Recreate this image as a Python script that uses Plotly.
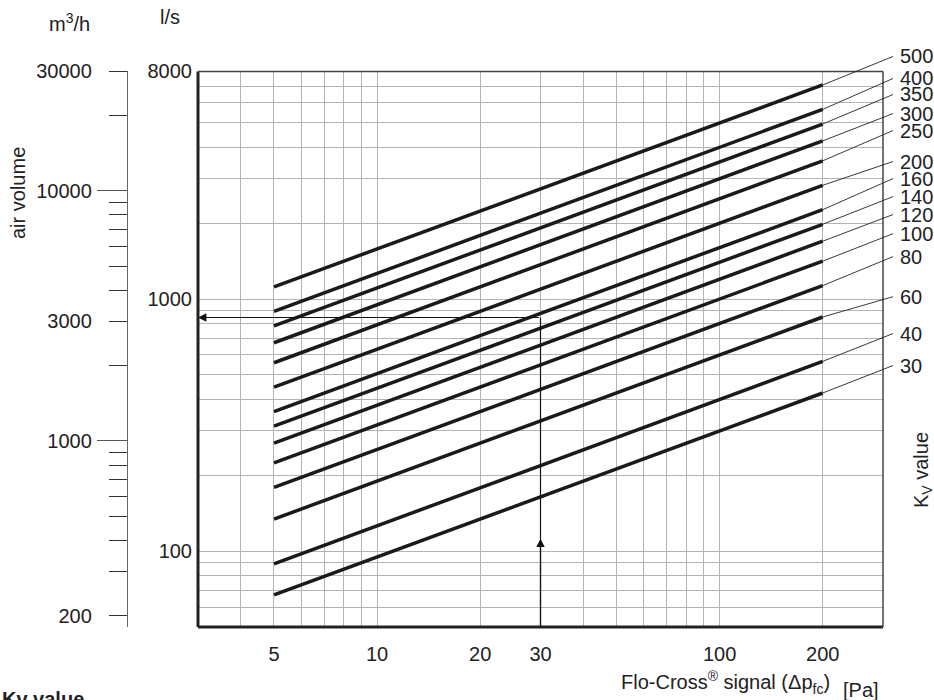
import numpy as np
import plotly.graph_objects as go

# ---------------- data ----------------
kv_values = [30, 40, 60, 80, 100, 120, 140, 160, 200, 250, 300, 350, 400, 500]
dp_points = [5, 200]                      # Flo-Cross signal [Pa] at line ends
flow_at_dp5 = [67, 89, 134, 179, 224, 268, 313, 358, 447, 559, 671, 783, 894, 1118]        # l/s
flow_at_dp200 = [424, 566, 849, 1131, 1414, 1697, 1980, 2263, 2828, 3536, 4243, 4950, 5657, 7071]  # l/s

x_tick_vals = [4, 5, 6, 7, 8, 9, 10, 20, 30, 40, 50, 60, 70, 80, 90, 100, 200]
x_tick_text = ["", "5", "", "", "", "", "10", "20", "30", "", "", "", "", "", "", "100", "200"]

y_grid_vals = [50, 60, 70, 80, 90, 100, 200, 300, 400, 500, 600, 700, 800, 900,
               1000, 2000, 3000, 4000, 5000, 6000, 7000, 8000]
y_tick_text = ["", "", "", "", "", "100", "", "", "", "", "", "", "", "",
               "1000", "", "", "", "", "", "", "8000"]

m3h_tick_vals = [30000, 20000, 10000, 9000, 8000, 7000, 6000, 5000, 4000, 3000, 2000,
                 1000, 900, 800, 700, 600, 500, 400, 300, 200]
m3h_tick_text = ["30000", "", "10000", "", "", "", "", "", "", "3000", "",
                 "1000", "", "", "", "", "", "", "", "200"]
m3h_major_ticks = [10000, 1000]

example_dp = 30
example_flow = 845          # l/s read at the example arrow
example_arrow_tip = 112     # l/s where the upward arrow head sits

# label anchor (leader-line end) for each Kv label, in l/s
kv_label_flow = [545, 730, 1022, 1474, 1818, 2165, 2551, 3006, 3514, 4665, 5448, 6482, 7505, 9175]
kv_label_dp = 321

# ---------------- scales ----------------
LS_TO_M3H = 3.6
y_min, y_max = 50, 8000
x_min, x_max = 3, 300
m3h_min, m3h_max = y_min * LS_TO_M3H, 30000
y_dom_top = np.log10(y_max / y_min) / np.log10(m3h_max / m3h_min)

W, H = 934, 700
ML, MR, MT, MB = 100, 51, 67, 73
PW, PH = W - ML - MR, H - MT - MB


def pxx(x):
    return (x - ML) / PW


def pxy(y):
    return (H - MB - y) / PH


FONT = "Liberation Sans, Arial, Helvetica, sans-serif"
FS = 20

fig = go.Figure()

for kv, q5, q200 in zip(kv_values, flow_at_dp5, flow_at_dp200):
    fig.add_trace(go.Scatter(x=dp_points, y=[q5, q200], mode="lines",
                             line=dict(color="#1a1a1a", width=3.5),
                             name=f"Kv {kv}", showlegend=False, hoverinfo="skip"))

# example vertical line
fig.add_trace(go.Scatter(x=[example_dp, example_dp], y=[y_min, example_flow], mode="lines",
                         line=dict(color="#111111", width=1.2), showlegend=False, hoverinfo="skip"))

# dummy traces so the secondary axes render
fig.add_trace(go.Scatter(x=[10], y=[1000], yaxis="y2", mode="markers",
                         marker=dict(opacity=0), showlegend=False, hoverinfo="skip"))
fig.add_trace(go.Scatter(x=[10], y=[1000], yaxis="y3", mode="markers",
                         marker=dict(opacity=0), showlegend=False, hoverinfo="skip"))

annotations = []
# Kv labels with leader lines
for kv, q200, qlab in zip(kv_values, flow_at_dp200, kv_label_flow):
    annotations.append(dict(
        x=np.log10(dp_points[1]), y=np.log10(q200), xref="x", yref="y",
        ax=np.log10(kv_label_dp), ay=np.log10(qlab), axref="x", ayref="y",
        text=str(kv), showarrow=True, arrowhead=0, arrowwidth=0.9, arrowcolor="#222222",
        standoff=0, startstandoff=0, xanchor="left", yanchor="middle",
        font=dict(family=FONT, size=FS, color="#222222"), borderpad=6))

# example arrows
annotations.append(dict(
    x=np.log10(x_min), y=np.log10(example_flow), xref="x", yref="y",
    ax=np.log10(example_dp), ay=np.log10(example_flow), axref="x", ayref="y",
    text="", showarrow=True, arrowhead=2, arrowsize=1.4, arrowwidth=1.2, arrowcolor="#111111"))
annotations.append(dict(
    x=np.log10(example_dp), y=np.log10(example_arrow_tip), xref="x", yref="y",
    ax=np.log10(example_dp), ay=np.log10(y_min), axref="x", ayref="y",
    text="", showarrow=True, arrowhead=2, arrowsize=1.4, arrowwidth=1.2, arrowcolor="#111111"))

# text labels
txt = dict(showarrow=False, xref="paper", yref="paper", font=dict(family=FONT, size=FS, color="#222222"))
annotations += [
    dict(text="m<sup>3</sup>/h", x=pxx(69), y=pxy(22), xanchor="center", yanchor="middle", **txt),
    dict(text="l/s", x=pxx(170), y=pxy(17), xanchor="center", yanchor="middle", **txt),
    dict(text="air volume", x=pxx(18), y=pxy(193), xanchor="center", yanchor="middle", textangle=-90, **txt),
    dict(text="K<sub>V</sub> value", x=pxx(922), y=pxy(470), xanchor="center", yanchor="middle", textangle=-90, **txt),
    dict(text="Flo-Cross<sup>®</sup> signal (Δp<sub>fc</sub>)", x=pxx(619), y=pxy(682),
         xanchor="left", yanchor="middle", **txt),
    dict(text="[Pa]", x=pxx(841), y=pxy(690), xanchor="left", yanchor="middle", **txt),
    dict(text="<b>Kv value</b>", x=pxx(0), y=pxy(686), xanchor="left", yanchor="top", **txt),
]

frame_shapes = [
    dict(type="line", xref="x domain", yref="y domain", x0=0, x1=0, y0=0, y1=1,
         line=dict(color="#222222", width=3)),
    dict(type="line", xref="x domain", yref="y domain", x0=0, x1=1, y0=0, y1=0,
         line=dict(color="#222222", width=3)),
    dict(type="line", xref="x domain", yref="y domain", x0=0, x1=1, y0=1, y1=1,
         line=dict(color="#444444", width=1.5)),
    dict(type="line", xref="x domain", yref="y domain", x0=1, x1=1, y0=0, y1=1,
         line=dict(color="#444444", width=1.5)),
]

fig.update_layout(
    width=W, height=H,
    margin=dict(l=ML, r=MR, t=MT, b=MB, pad=0),
    paper_bgcolor="white", plot_bgcolor="white",
    font=dict(family=FONT, size=FS, color="#222222"),
    showlegend=False,
    xaxis=dict(type="log", range=[np.log10(x_min), np.log10(x_max)],
               domain=[pxx(198), 1], anchor="y",
               tickmode="array", tickvals=x_tick_vals, ticktext=x_tick_text,
               ticks="", showgrid=True, gridcolor="#b4b4b4", gridwidth=1.3,
               showline=False, zeroline=False, ticklabelstandoff=13,
               tickfont=dict(family=FONT, size=FS, color="#222222")),
    yaxis=dict(type="log", range=[np.log10(y_min), np.log10(y_max)],
               domain=[0, y_dom_top], anchor="x",
               tickmode="array", tickvals=y_grid_vals, ticktext=y_tick_text,
               ticks="", showgrid=True, gridcolor="#b4b4b4", gridwidth=1.3,
               showline=False, zeroline=False, ticklabelstandoff=5,
               tickfont=dict(family=FONT, size=FS, color="#222222")),
    yaxis2=dict(type="log", range=[np.log10(m3h_min), np.log10(m3h_max)],
                domain=[0, 1], anchor="free", position=pxx(127), overlaying="y", side="left",
                tickmode="array", tickvals=m3h_tick_vals, ticktext=m3h_tick_text,
                ticks="outside", ticklen=18, tickwidth=1.4, tickcolor="#333333",
                showline=True, linecolor="#666666", linewidth=1.4,
                showgrid=False, zeroline=False, ticklabelstandoff=13,
                tickfont=dict(family=FONT, size=FS, color="#222222")),
    yaxis3=dict(type="log", range=[np.log10(m3h_min), np.log10(m3h_max)],
                domain=[0, 1], anchor="free", position=pxx(127), overlaying="y", side="left",
                tickmode="array", tickvals=m3h_major_ticks,
                ticks="outside", ticklen=30, tickwidth=1.4, tickcolor="#555555",
                showticklabels=False, showline=False, showgrid=False, zeroline=False),
    annotations=annotations,
    shapes=frame_shapes,
)

fig.write_html("out.html",
               config={"displayModeBar": False},
               post_script="document.body.style.margin='0';document.body.style.padding='0';"
                           "document.documentElement.style.overflow='hidden';")
